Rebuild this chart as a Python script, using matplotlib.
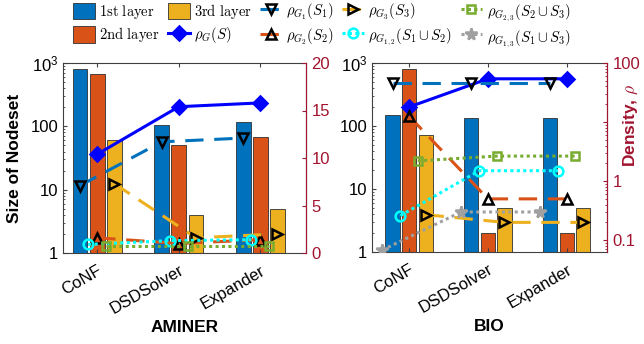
import numpy as np
import matplotlib
matplotlib.use("Agg")
import matplotlib.pyplot as plt
from matplotlib.ticker import FixedLocator, NullFormatter, LogLocator

plt.rcParams['font.family'] = ['Liberation Sans', 'DejaVu Sans']
plt.rcParams['mathtext.fontset'] = 'cm'

# ---------------- data ----------------
categories = ['CoNF', 'DSDSolver', 'Expander']

aminer_l1 = [800, 105, 117]
aminer_l2 = [680, 51, 68]
aminer_l3 = [60, 4, 5]
aminer_rhoG = [10.4, 15.4, 15.8]
aminer_rho1 = [7.1, 11.7, 12.1]
aminer_rho2 = [1.6, 1.0, 1.4]
aminer_rho3 = [7.3, 1.6, 2.0]
aminer_rho12 = [0.9, 1.3, 1.4]
aminer_rho23 = [0.74, 0.74, 0.74]

bio_l1 = [150, 135, 135]
bio_l2 = [800, 2, 2]
bio_l3 = [72, 5, 5]
bio_rhoG = [18, 54, 54]
bio_rho1 = [45, 45, 45]
bio_rho2 = [12.6, 0.5, 0.5]
bio_rho3 = [0.27, 0.2, 0.2]
bio_rho12 = [0.26, 1.5, 1.5]
bio_rho23 = [2.2, 2.65, 2.65]
bio_rho13 = [0.068, 0.3, 0.3]

legend_labels = ['$\\mathrm{1st\\ layer}$', '$\\mathrm{2nd\\ layer}$', '$\\mathrm{3rd\\ layer}$',
                 r'$\rho_G(S)$', r'$\rho_{G_1}(S_1)$', r'$\rho_{G_2}(S_2)$', r'$\rho_{G_3}(S_3)$',
                 r'$\rho_{G_{1,2}}(S_1\cup S_2)$', r'$\rho_{G_{2,3}}(S_2\cup S_3)$',
                 r'$\rho_{G_{1,3}}(S_1\cup S_3)$']

# ---------------- styles ----------------
C1, C2, C3 = '#0072BD', '#D95319', '#EDB120'
CG = '#0000FF'
CCY = '#00FFFF'
CGR = '#77AC30'
CGY = '#A0A0A0'
RED = '#A2142F'
SPINE = '#404040'
DASH = (0, (6, 3.5))
DOT = (0, (1, 1.1))

fig = plt.figure(figsize=(6.44, 3.44), dpi=100)
W, H = 644, 344
ax1 = fig.add_axes([63 / W, 1 - 253 / H, (306 - 63) / W, (253 - 63) / H])
ax3 = fig.add_axes([372 / W, 1 - 252 / H, (607 - 372) / W, (252 - 63) / H])

x = np.arange(1, len(categories) + 1)
bw = 0.18
off = 0.21


def panel(ax, l1, l2, l3, xlim, xlabel, dens, log_right, ylabel_left=None):
    b1 = ax.bar(x - off, l1, bw, color=C1, edgecolor='#303030', linewidth=0.6)
    b2 = ax.bar(x, l2, bw, color=C2, edgecolor='#303030', linewidth=0.6)
    b3 = ax.bar(x + off, l3, bw, color=C3, edgecolor='#303030', linewidth=0.6)
    ax.set_yscale('log')
    ax.set_ylim(1, 1000)
    ax.set_xlim(*xlim)
    ax.set_yticks([1, 10, 100, 1000])
    ax.set_yticklabels(['1', '10', '100', r'$\mathregular{10^3}$'], fontsize=12)
    ax.set_xticks(x)
    ax.set_xticklabels(categories, rotation=30, ha='right', va='top',
                       rotation_mode='anchor', fontsize=12)
    ax.tick_params(axis='x', direction='in', top=True, length=3, pad=7, color=SPINE)
    ax.tick_params(axis='y', which='both', direction='in', right=False, color=SPINE)
    ax.tick_params(axis='y', which='major', length=3)
    ax.tick_params(axis='y', which='minor', length=1.5)
    ax.set_xlabel(xlabel, fontsize=12.5, fontweight='bold', labelpad=2)
    if ylabel_left:
        ax.set_ylabel(ylabel_left, fontsize=12.5, fontweight='bold', labelpad=6)
    for s in ['left', 'top', 'bottom']:
        ax.spines[s].set_color(SPINE)
        ax.spines[s].set_linewidth(0.8)

    ax2 = ax.twinx()
    handles = [b1, b2, b3]
    series = [
        (dens.get('rhoG'), 0.0, CG, '-', 'D', CG, CG, 7.5),
        (dens.get('rho1'), -off, C1, DASH, 'v', 'black', 'none', 7),
        (dens.get('rho2'), 0.0, C2, DASH, '^', 'black', 'none', 7),
        (dens.get('rho3'), off, C3, DASH, '>', 'black', 'none', 7),
        (dens.get('rho12'), -0.11, CCY, DOT, 'o', CCY, 'none', 7),
        (dens.get('rho23'), 0.11, CGR, DOT, 's', CGR, 'none', 6),
        (dens.get('rho13'), -0.34, CGY, DOT, '*', CGY, CGY, 8.5),
    ]
    for vals, o, c, ls, m, mec, mfc, ms in series:
        xs = [] if vals is None else x + o
        ys = [] if vals is None else vals
        h, = ax2.plot(xs, ys, color=c, linestyle=ls, linewidth=2.2, marker=m,
                      mec=mec, mfc=mfc, ms=ms, mew=1.8)
        handles.append(h)
    if log_right:
        ax2.set_yscale('log')
        ax2.set_ylim(0.063, 100)
        ax2.yaxis.set_major_locator(FixedLocator([0.1, 1, 10, 100]))
        ax2.set_yticklabels(['0.1', '1', '', '100'])
        ax2.yaxis.set_minor_locator(LogLocator(subs=np.arange(2, 10)))
        ax2.yaxis.set_minor_formatter(NullFormatter())
    else:
        ax2.set_ylim(0, 20)
        ax2.set_yticks([0, 5, 10, 15, 20])
    ax2.tick_params(axis='y', which='both', direction='in', colors=RED, labelsize=12, pad=4)
    ax2.tick_params(axis='y', which='major', length=3)
    ax2.tick_params(axis='y', which='minor', length=1.5)
    ax2.spines['right'].set_color(RED)
    ax2.spines['right'].set_linewidth(0.8)
    for s in ['left', 'top', 'bottom']:
        ax2.spines[s].set_visible(False)
    return ax2, handles


aminer_dens = dict(rhoG=aminer_rhoG, rho1=aminer_rho1, rho2=aminer_rho2, rho3=aminer_rho3,
                   rho12=aminer_rho12, rho23=aminer_rho23)
bio_dens = dict(rhoG=bio_rhoG, rho1=bio_rho1, rho2=bio_rho2, rho3=bio_rho3,
                rho12=bio_rho12, rho23=bio_rho23, rho13=bio_rho13)

ax2, _ = panel(ax1, aminer_l1, aminer_l2, aminer_l3, (0.58, 3.56), 'AMINER',
               aminer_dens, False, ylabel_left='Size of Nodeset')
ax4, handles = panel(ax3, bio_l1, bio_l2, bio_l3, (0.53, 3.51), 'BIO', bio_dens, True)

ax4.set_ylabel('Density, $\\rho$', color=RED, fontsize=12.5, fontweight='bold')
ax4.yaxis.set_label_coords((622 - 372) / (607 - 372), 0.67)

fig.legend(handles, legend_labels, ncol=5, loc='upper center', bbox_to_anchor=(0.5, 1.02),
           frameon=False, fontsize=10.5, handlelength=1.5, handleheight=1.4,
           handletextpad=0.3, columnspacing=0.55, labelspacing=0.3, borderaxespad=0.2)

fig.savefig('out.png', dpi=100)
